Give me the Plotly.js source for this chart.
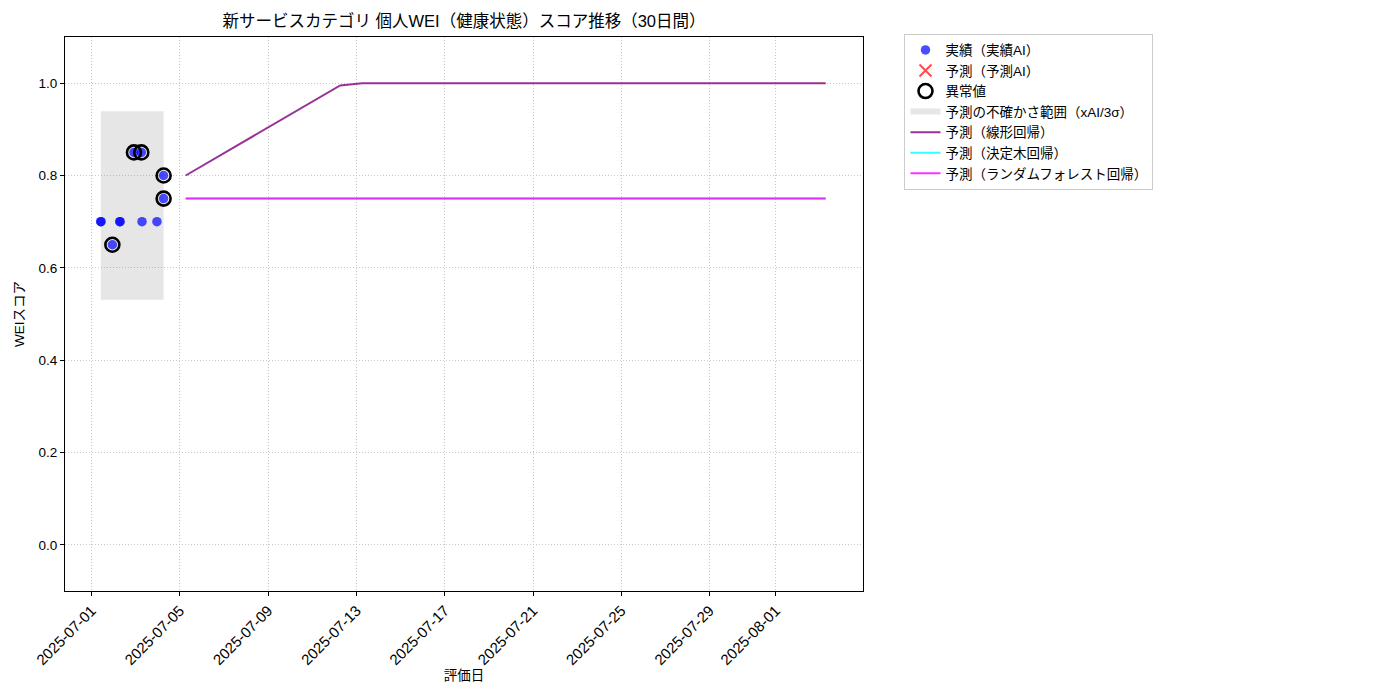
<!DOCTYPE html>
<html>
<head>
<meta charset="utf-8">
<script src="https://cdn.plot.ly/plotly-3.0.1.min.js"></script>
<style>html,body{margin:0;padding:0;background:#fff;}#chart{width:1400px;height:700px;}</style>
</head>
<body>
<div id="chart"></div>
<script>
// ---- data ----
const actualDates = ['2025-07-01 10:00','2025-07-01 10:00','2025-07-01 22:30','2025-07-02 06:45','2025-07-02 06:45','2025-07-02 22:00','2025-07-03 06:00','2025-07-03 06:45','2025-07-03 23:00','2025-07-04 06:15','2025-07-04 06:15'];
const actualValues = [0.70,0.70,0.65,0.70,0.70,0.85,0.85,0.70,0.70,0.80,0.75];

const predAIDates = [null];
const predAIValues = [null];

const outlierDates = ['2025-07-01 22:30','2025-07-02 22:00','2025-07-03 06:00','2025-07-04 06:15','2025-07-04 06:15'];
const outlierValues = [0.65,0.85,0.85,0.80,0.75];

const bandDates = ['2025-07-01 10:00','2025-07-04 06:15'];
const bandLow = 0.531;
const bandHigh = 0.939;

const predDates = ['2025-07-05 06:15','2025-07-06 06:15','2025-07-07 06:15','2025-07-08 06:15','2025-07-09 06:15','2025-07-10 06:15','2025-07-11 06:15','2025-07-12 06:15','2025-07-13 06:15','2025-07-14 06:15','2025-07-15 06:15','2025-07-16 06:15','2025-07-17 06:15','2025-07-18 06:15','2025-07-19 06:15','2025-07-20 06:15','2025-07-21 06:15','2025-07-22 06:15','2025-07-23 06:15','2025-07-24 06:15','2025-07-25 06:15','2025-07-26 06:15','2025-07-27 06:15','2025-07-28 06:15','2025-07-29 06:15','2025-07-30 06:15','2025-07-31 06:15','2025-08-01 06:15','2025-08-02 06:15','2025-08-03 06:15'];
const linearValues = [0.800,0.828,0.856,0.884,0.912,0.940,0.967,0.995,1.0,1.0,1.0,1.0,1.0,1.0,1.0,1.0,1.0,1.0,1.0,1.0,1.0,1.0,1.0,1.0,1.0,1.0,1.0,1.0,1.0,1.0];
const treeValues = [0.75,0.75,0.75,0.75,0.75,0.75,0.75,0.75,0.75,0.75,0.75,0.75,0.75,0.75,0.75,0.75,0.75,0.75,0.75,0.75,0.75,0.75,0.75,0.75,0.75,0.75,0.75,0.75,0.75,0.75];
const rfValues = [0.75,0.75,0.75,0.75,0.75,0.75,0.75,0.75,0.75,0.75,0.75,0.75,0.75,0.75,0.75,0.75,0.75,0.75,0.75,0.75,0.75,0.75,0.75,0.75,0.75,0.75,0.75,0.75,0.75,0.75];

const xTickVals = ['2025-07-01','2025-07-05','2025-07-09','2025-07-13','2025-07-17','2025-07-21','2025-07-25','2025-07-29','2025-08-01'];
const xTickText = ['2025-07-01','2025-07-05','2025-07-09','2025-07-13','2025-07-17','2025-07-21','2025-07-25','2025-07-29','2025-08-01'];
const yTickVals = [0.0,0.2,0.4,0.6,0.8,1.0];

const names = ['実績（実績AI）','予測（予測AI）','異常値','予測の不確かさ範囲（xAI/3σ）','予測（線形回帰）','予測（決定木回帰）','予測（ランダムフォレスト回帰）'];
const titleText = '新サービスカテゴリ 個人WEI（健康状態）スコア推移（30日間）';

// ---- traces ----
const FONT = '"Liberation Sans", "Noto Sans CJK JP", sans-serif';
const traces = [
  {type:'scatter', mode:'none', name:names[3], legendrank:4,
   x:[bandDates[0],bandDates[1],bandDates[1],bandDates[0],bandDates[0]],
   y:[bandLow,bandLow,bandHigh,bandHigh,bandLow],
   fill:'toself', fillcolor:'rgba(128,128,128,0.2)', line:{width:0}, hoverinfo:'skip'},
  {type:'scatter', mode:'markers', name:names[0], legendrank:1, x:actualDates, y:actualValues,
   marker:{color:'rgba(0,0,255,0.7)', size:9.5, line:{width:0}}},
  {type:'scatter', mode:'markers', name:names[1], legendrank:2, x:predAIDates, y:predAIValues,
   marker:{color:'rgba(255,0,0,0.7)', symbol:'x-thin-open', size:12, line:{width:2, color:'rgba(255,0,0,0.7)'}}},
  {type:'scatter', mode:'markers', name:names[2], legendrank:3, x:outlierDates, y:outlierValues,
   marker:{color:'#000', symbol:'circle-open', size:14, line:{width:2.6, color:'#000'}}},
  {type:'scatter', mode:'lines', name:names[4], legendrank:5, x:predDates, y:linearValues,
   line:{color:'rgba(128,0,128,0.8)', width:2}},
  {type:'scatter', mode:'lines', name:names[5], legendrank:6, x:predDates, y:treeValues,
   line:{color:'rgba(0,255,255,0.8)', width:2}},
  {type:'scatter', mode:'lines', name:names[6], legendrank:7, x:predDates, y:rfValues,
   line:{color:'rgba(255,0,255,0.8)', width:2}}
];

const layout = {
  width:1400, height:700,
  paper_bgcolor:'#fff', plot_bgcolor:'#fff',
  font:{family:FONT, size:13, color:'#000'},
  margin:{l:65, r:537, t:37, b:109, pad:0},
  title:{text:titleText, font:{family:FONT, size:16.5, color:'#000'}, x:0.5, xref:'paper', y:0.97, yanchor:'middle'},
  showlegend:true,
  legend:{x:1.052, xanchor:'left', y:1.006, yanchor:'top', bordercolor:'#cccccc', borderwidth:1,
          bgcolor:'#fff', font:{family:FONT, size:13.5, color:'#000'}, tracegroupgap:0, itemwidth:30},
  xaxis:{type:'date', range:['2025-06-29 19:00','2025-08-04 22:50'],
         tickmode:'array', tickvals:xTickVals, ticktext:xTickText, tickangle:-45,
         ticks:'outside', ticklen:4, tickcolor:'#000', showline:true, linecolor:'#000', linewidth:1, mirror:true,
         showgrid:true, gridcolor:'#c8c8c8', griddash:'1px,2px', gridwidth:1, zeroline:false,
         tickfont:{family:FONT, size:15},
         title:{text:'評価日', font:{family:FONT, size:13.5}, standoff:2}},
  yaxis:{range:[-0.1,1.1], tickmode:'array', tickvals:yTickVals, tickformat:'.1f',
         ticks:'outside', ticklen:4, tickcolor:'#000', showline:true, linecolor:'#000', linewidth:1, mirror:true,
         showgrid:true, gridcolor:'#c8c8c8', griddash:'1px,2px', gridwidth:1, zeroline:false,
         tickfont:{family:FONT, size:13.5},
         title:{text:'WEIスコア', font:{family:FONT, size:13.5}, standoff:10}}
};

Plotly.newPlot('chart', traces, layout, {displayModeBar:false, staticPlot:true});
</script>
</body>
</html>
